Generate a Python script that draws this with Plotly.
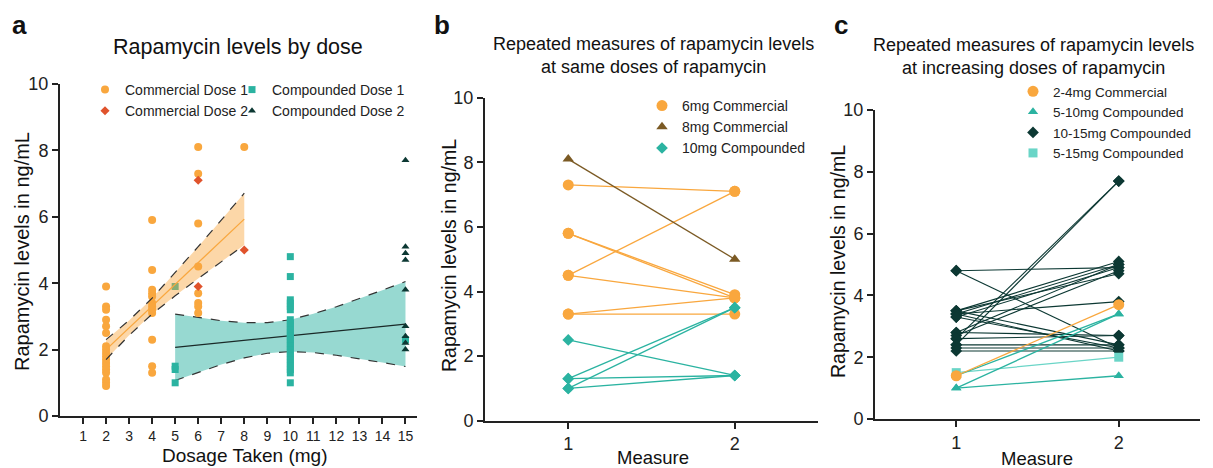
import plotly.graph_objects as go

# ---------------- Panel a data ----------------
comm1_doses = [2, 4, 6, 8]
comm1_levels = [
    [3.9, 3.3, 3.2, 2.9, 2.7, 2.5, 2.1, 2.0, 1.9, 1.8, 1.7, 1.6, 1.5, 1.4, 1.3, 1.1, 1.0, 0.9],
    [5.9, 4.4, 3.8, 3.7, 3.6, 3.4, 3.3, 3.2, 3.1, 2.3, 1.5, 1.3],
    [8.1, 7.3, 5.8, 4.5, 3.7, 3.4, 3.3, 3.1],
    [8.1],
]
comm2_doses = [6, 8]
comm2_levels = [[7.1, 3.9], [5.0]]
comp1_doses = [5, 10, 15]
comp1_levels = [
    [3.9, 1.5, 1.4, 1.0],
    [4.8, 4.2, 3.5, 3.4, 3.3, 3.2, 2.9, 2.8, 2.7, 2.6, 2.5, 2.4, 2.3, 2.2, 2.1, 2.0,
     1.9, 1.8, 1.7, 1.6, 1.5, 1.4, 1.3, 1.0],
    [2.3],
]
comp2_doses = [15]
comp2_levels = [[7.7, 5.1, 4.9, 4.7, 3.8, 2.7, 2.4, 2.2, 2.0]]

# regression fits with 95% CI
comm_fit_x = [2, 3, 4, 5, 6, 7, 8]
comm_fit_mid = [2.0, 2.66, 3.31, 3.97, 4.62, 5.28, 5.93]
comm_ci_upper = [2.30, 2.88, 3.55, 4.31, 5.10, 5.90, 6.71]
comm_ci_lower = [1.70, 2.43, 3.07, 3.62, 4.14, 4.65, 5.15]

comp_fit_x = [5, 6, 7, 8, 9, 10, 11, 12, 13, 14, 15]
comp_fit_mid = [2.07, 2.14, 2.21, 2.28, 2.35, 2.42, 2.49, 2.56, 2.63, 2.70, 2.77]
comp_ci_upper = [3.07, 2.96, 2.87, 2.81, 2.81, 2.90, 3.08, 3.29, 3.53, 3.79, 4.05]
comp_ci_lower = [1.07, 1.32, 1.55, 1.75, 1.89, 1.94, 1.91, 1.83, 1.73, 1.61, 1.49]

a_xticks = list(range(1, 16))
yticks = [0, 2, 4, 6, 8, 10]

# ---------------- Panel b data ----------------
b_measures = [1, 2]
b_6mg_m1 = [7.3, 5.8, 5.8, 4.5, 4.5, 3.3, 3.3]
b_6mg_m2 = [7.1, 3.9, 3.8, 7.1, 3.8, 3.8, 3.3]
b_8mg_m1 = [8.1]
b_8mg_m2 = [5.0]
b_10mg_m1 = [2.5, 1.3, 1.0, 1.3, 1.0]
b_10mg_m2 = [1.4, 3.5, 3.5, 1.4, 1.4]

# ---------------- Panel c data ----------------
c_2_4_m1 = [1.4]
c_2_4_m2 = [3.7]
c_5_10_m1 = [1.0, 1.4, 1.0]
c_5_10_m2 = [3.4, 3.4, 1.4]
c_10_15_m1 = [4.8, 4.8, 2.4, 2.6, 3.5, 3.4, 3.3, 3.5, 2.8, 2.7, 3.4, 3.5, 3.4, 3.3, 2.8, 2.6, 2.4, 2.3, 2.2]
c_10_15_m2 = [4.9, 2.3, 7.7, 7.7, 5.1, 5.0, 4.9, 4.7, 5.0, 4.8, 3.8, 2.4, 2.2, 2.3, 2.7, 2.7, 2.4, 2.3, 2.2]
c_5_15_m1 = [1.5]
c_5_15_m2 = [2.0]

# ---------------- colours ----------------
ORANGE = "#f9a73e"
RED = "#e0532c"
TEAL = "#2bb3a1"
TEAL_BAND = "#97d9d1"
DARK = "#0c3833"
BROWN = "#7b5a24"
LIGHT_TEAL = "#6ad5c7"
FONT = "Liberation Sans, Arial, sans-serif"

fig = go.Figure()

def flat(doses, levels):
    xs, ys = [], []
    for d, lv in zip(doses, levels):
        xs += [d] * len(lv)
        ys += lv
    return xs, ys

# --- teal CI band (under markers)
fig.add_trace(go.Scatter(x=comp_fit_x + comp_fit_x[::-1], y=comp_ci_upper + comp_ci_lower[::-1],
                         fill="toself", fillcolor=TEAL_BAND, line=dict(width=0), mode="lines",
                         hoverinfo="skip", showlegend=False, xaxis="x", yaxis="y"))
for arr in (comp_ci_upper, comp_ci_lower):
    fig.add_trace(go.Scatter(x=comp_fit_x, y=arr, mode="lines",
                             line=dict(color="#333", width=1.2, dash="dash"),
                             showlegend=False, xaxis="x", yaxis="y"))
fig.add_trace(go.Scatter(x=comp_fit_x, y=comp_fit_mid, mode="lines",
                         line=dict(color="#1a2a28", width=1.3), showlegend=False, xaxis="x", yaxis="y"))

# --- panel a markers
x, y = flat(comm1_doses, comm1_levels)
fig.add_trace(go.Scatter(x=x, y=y, mode="markers", name="Commercial Dose 1",
                         marker=dict(symbol="circle", size=8, color=ORANGE),
                         legend="legend", xaxis="x", yaxis="y"))
x, y = flat(comm2_doses, comm2_levels)
fig.add_trace(go.Scatter(x=x, y=y, mode="markers", name="Commercial Dose 2",
                         marker=dict(symbol="diamond", size=7, color=RED),
                         legend="legend", xaxis="x", yaxis="y"))
x, y = flat(comp1_doses, comp1_levels)
fig.add_trace(go.Scatter(x=x, y=y, mode="markers", name="Compounded Dose 1",
                         marker=dict(symbol="square", size=7, color=TEAL),
                         legend="legend2", xaxis="x", yaxis="y"))
x, y = flat(comp2_doses, comp2_levels)
fig.add_trace(go.Scatter(x=x, y=y, mode="markers", name="Compounded Dose 2",
                         marker=dict(symbol="triangle-up", size=7, color=DARK),
                         legend="legend2", xaxis="x", yaxis="y"))

# --- orange CI band (semi-transparent, on top)
fig.add_trace(go.Scatter(x=comm_fit_x + comm_fit_x[::-1], y=comm_ci_upper + comm_ci_lower[::-1],
                         fill="toself", fillcolor="rgba(249,167,62,0.45)", line=dict(width=0),
                         mode="lines", hoverinfo="skip", showlegend=False, xaxis="x", yaxis="y"))
for arr in (comm_ci_upper, comm_ci_lower):
    fig.add_trace(go.Scatter(x=comm_fit_x, y=arr, mode="lines",
                             line=dict(color="#333", width=1.2, dash="dash"),
                             showlegend=False, xaxis="x", yaxis="y"))
fig.add_trace(go.Scatter(x=comm_fit_x, y=comm_fit_mid, mode="lines",
                         line=dict(color=ORANGE, width=1.3), showlegend=False, xaxis="x", yaxis="y"))

# ---------------- Panels b and c ----------------
def pairs(m1, m2, name, color, symbol, size, legend, xa, ya, rank, lw=1.3):
    for a, b in zip(m1, m2):
        fig.add_trace(go.Scatter(x=b_measures, y=[a, b], mode="lines", showlegend=False,
                                 line=dict(color=color, width=lw), hoverinfo="skip",
                                 xaxis=xa, yaxis=ya))
    xs = [b_measures[0]] * len(m1) + [b_measures[1]] * len(m2)
    fig.add_trace(go.Scatter(x=xs, y=list(m1) + list(m2), mode="markers", name=name,
                             marker=dict(symbol=symbol, size=size, color=color),
                             legend=legend, legendrank=rank, xaxis=xa, yaxis=ya))

pairs(b_6mg_m1, b_6mg_m2, "6mg Commercial", ORANGE, "circle", 11, "legend3", "x2", "y2", 1)
pairs(b_8mg_m1, b_8mg_m2, "8mg Commercial", BROWN, "triangle-up", 10, "legend3", "x2", "y2", 2)
pairs(b_10mg_m1, b_10mg_m2, "10mg Compounded", TEAL, "diamond", 9, "legend3", "x2", "y2", 3)

pairs(c_10_15_m1, c_10_15_m2, "10-15mg Compounded", DARK, "diamond", 9, "legend4", "x3", "y3", 3, lw=1.1)
pairs(c_5_15_m1, c_5_15_m2, "5-15mg Compounded", LIGHT_TEAL, "square", 9, "legend4", "x3", "y3", 4)
pairs(c_5_10_m1, c_5_10_m2, "5-10mg Compounded", TEAL, "triangle-up", 9, "legend4", "x3", "y3", 2)
pairs(c_2_4_m1, c_2_4_m2, "2-4mg Commercial", ORANGE, "circle", 11, "legend4", "x3", "y3", 1)

# page has an 8px body margin: figure drawn at (8, 8)
OFF = 8
W, H = 1213 - OFF, 468 - OFF
def px(v):
    return (v - OFF) / W
def py(v):
    return 1 - (v - OFF) / H

axis_common = dict(showline=True, linecolor="#222", linewidth=2, ticks="outside",
                   ticklen=6, tickwidth=1.5, tickcolor="#222", showgrid=False, zeroline=False,
                   automargin=False)

def tf(s):
    return dict(family=FONT, size=s, color="#222")

leg_common = dict(xanchor="left", yanchor="top", bgcolor="rgba(0,0,0,0)", tracegroupgap=0,
                  itemwidth=30, traceorder="normal")

fig.update_layout(
    width=W, height=H, margin=dict(l=0, r=0, t=0, b=0, pad=0, autoexpand=False),
    paper_bgcolor="white", plot_bgcolor="white",
    font=dict(family=FONT, color="#222"),
    xaxis=dict(domain=[px(60), px(417)], range=[0, 15.5], tickvals=a_xticks, anchor="y",
               tickfont=tf(14), **axis_common),
    yaxis=dict(domain=[py(416), py(84)], range=[0, 10], tickvals=yticks, anchor="x",
               tickfont=tf(18), **axis_common),
    xaxis2=dict(domain=[px(485), px(818)], range=[0.5, 2.5], tickvals=b_measures, anchor="y2",
                tickfont=tf(18), **axis_common),
    yaxis2=dict(domain=[py(420.7), py(97.7)], range=[0, 10], tickvals=yticks, anchor="x2",
                tickfont=tf(18), **axis_common),
    xaxis3=dict(domain=[px(875), px(1200)], range=[0.5, 2.5], tickvals=b_measures, anchor="y3",
                tickfont=tf(18), **axis_common),
    yaxis3=dict(domain=[py(419), py(110)], range=[0, 10], tickvals=yticks, anchor="x3",
                tickfont=tf(18), **axis_common),
    legend=dict(x=px(85), y=py(74), font=dict(family=FONT, size=14), **leg_common),
    legend2=dict(x=px(232), y=py(74), font=dict(family=FONT, size=14), **leg_common),
    legend3=dict(x=px(642), y=py(90), font=dict(family=FONT, size=14), **leg_common),
    legend4=dict(x=px(1013), y=py(76), font=dict(family=FONT, size=13.5), **leg_common),
    showlegend=True,
)

ann = []
def text(t, x, y, size, bold=False, angle=0):
    ann.append(dict(text=("<b>%s</b>" % t) if bold else t, x=px(x), y=py(y), xref="paper", yref="paper",
                    showarrow=False, font=dict(family=FONT, size=size, color="#111"),
                    xanchor="center", yanchor="middle", textangle=angle))

text("a", 19, 25, 26, bold=True)
text("b", 442, 25, 26, bold=True)
text("c", 841, 25, 26, bold=True)
text("Rapamycin levels by dose", 238, 47, 21.5)
text("Repeated measures of rapamycin levels<br>at same doses of rapamycin", 653, 56, 18)
text("Repeated measures of rapamycin levels<br>at increasing doses of rapamycin", 1033, 57, 18)
text("Rapamycin levels in ng/mL", 22, 252, 20, angle=-90)
text("Dosage Taken (mg)", 244, 455, 19)
text("Rapamycin levels in ng/mL", 449, 256, 19.5, angle=-90)
text("Measure", 653, 457, 18.5)
text("Rapamycin levels in ng/mL", 838, 262, 19.5, angle=-90)
text("Measure", 1037, 458, 18.5)
fig.update_layout(annotations=ann)

fig.write_html("out.html")
